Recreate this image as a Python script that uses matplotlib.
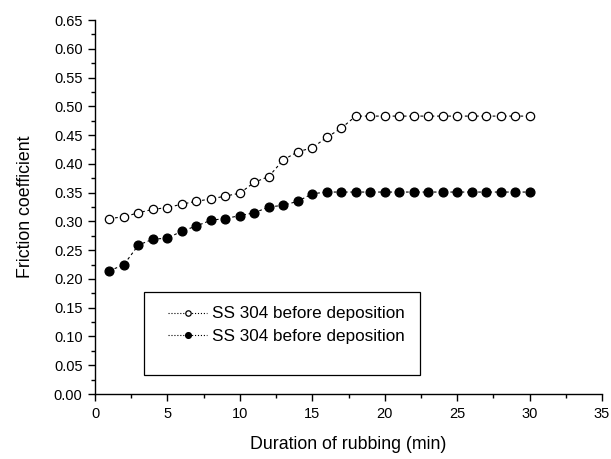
import matplotlib
matplotlib.use("Agg")
import matplotlib.pyplot as plt
from matplotlib.patches import Rectangle
from matplotlib.ticker import MultipleLocator, FormatStrFormatter

plt.rcParams['font.family'] = ['Liberation Sans', 'DejaVu Sans']

# Rubbing time (min)
minutes = list(range(1, 31))

# Friction coefficient, open markers
friction_open = [0.305, 0.308, 0.315, 0.321, 0.324, 0.330, 0.335, 0.339, 0.344, 0.349,
                 0.368, 0.378, 0.407, 0.421, 0.428, 0.446, 0.462, 0.483, 0.483, 0.483,
                 0.483, 0.483, 0.483, 0.483, 0.483, 0.483, 0.483, 0.483, 0.483, 0.483]

# Friction coefficient, filled markers
friction_filled = [0.214, 0.225, 0.259, 0.269, 0.271, 0.283, 0.292, 0.302, 0.305, 0.310,
                   0.315, 0.325, 0.328, 0.335, 0.348, 0.351, 0.351, 0.351, 0.351, 0.351,
                   0.351, 0.351, 0.351, 0.351, 0.351, 0.351, 0.351, 0.351, 0.351, 0.351]

series_labels = ["SS 304 before deposition", "SS 304 before deposition"]

fig = plt.figure(figsize=(6.11, 4.59), dpi=100)
ax = fig.add_axes([0.1555, 0.1416, 0.8298, 0.8148])

ax.plot(minutes, friction_open, linestyle=(0, (2.5, 2.5)), color='black', linewidth=0.8,
        marker='o', markersize=6.0, markerfacecolor='white', markeredgecolor='black',
        markeredgewidth=0.9, label=series_labels[0])
ax.plot(minutes, friction_filled, linestyle=(0, (2.5, 2.5)), color='black', linewidth=0.8,
        marker='o', markersize=6.3, markerfacecolor='black', markeredgecolor='black',
        label=series_labels[1])

ax.set_xlim(0, 35)
ax.set_ylim(0, 0.65)
ax.xaxis.set_major_locator(MultipleLocator(5))
ax.xaxis.set_minor_locator(MultipleLocator(2.5))
ax.yaxis.set_major_locator(MultipleLocator(0.05))
ax.yaxis.set_minor_locator(MultipleLocator(0.025))
ax.yaxis.set_major_formatter(FormatStrFormatter('%.2f'))

for side in ('top', 'right'):
    ax.spines[side].set_visible(False)
for side in ('left', 'bottom'):
    ax.spines[side].set_linewidth(1.0)

ax.tick_params(which='major', direction='out', length=5, width=1.0, labelsize=10.5, pad=4)
ax.tick_params(which='minor', direction='out', length=3, width=1.0)

ax.set_xlabel("Duration of rubbing (min)", fontsize=12.8, labelpad=11)
ax.set_ylabel("Friction coefficient", fontsize=12.8, labelpad=14)

# Legend box drawn separately so the entries sit at its top
ax.add_patch(Rectangle((0.0966, 0.0508), 0.5444, 0.2219, transform=ax.transAxes,
                       fill=False, edgecolor='black', linewidth=0.9, zorder=5))
leg = ax.legend(loc='upper left', bbox_to_anchor=(0.144, 0.234), frameon=False,
                fontsize=12.3, markerscale=0.65, handlelength=2.3, borderpad=0,
                labelspacing=0.45, handletextpad=0.3, borderaxespad=0)
for line in leg.get_lines():
    line.set_linestyle(':')

fig.savefig("out.png", dpi=100)
